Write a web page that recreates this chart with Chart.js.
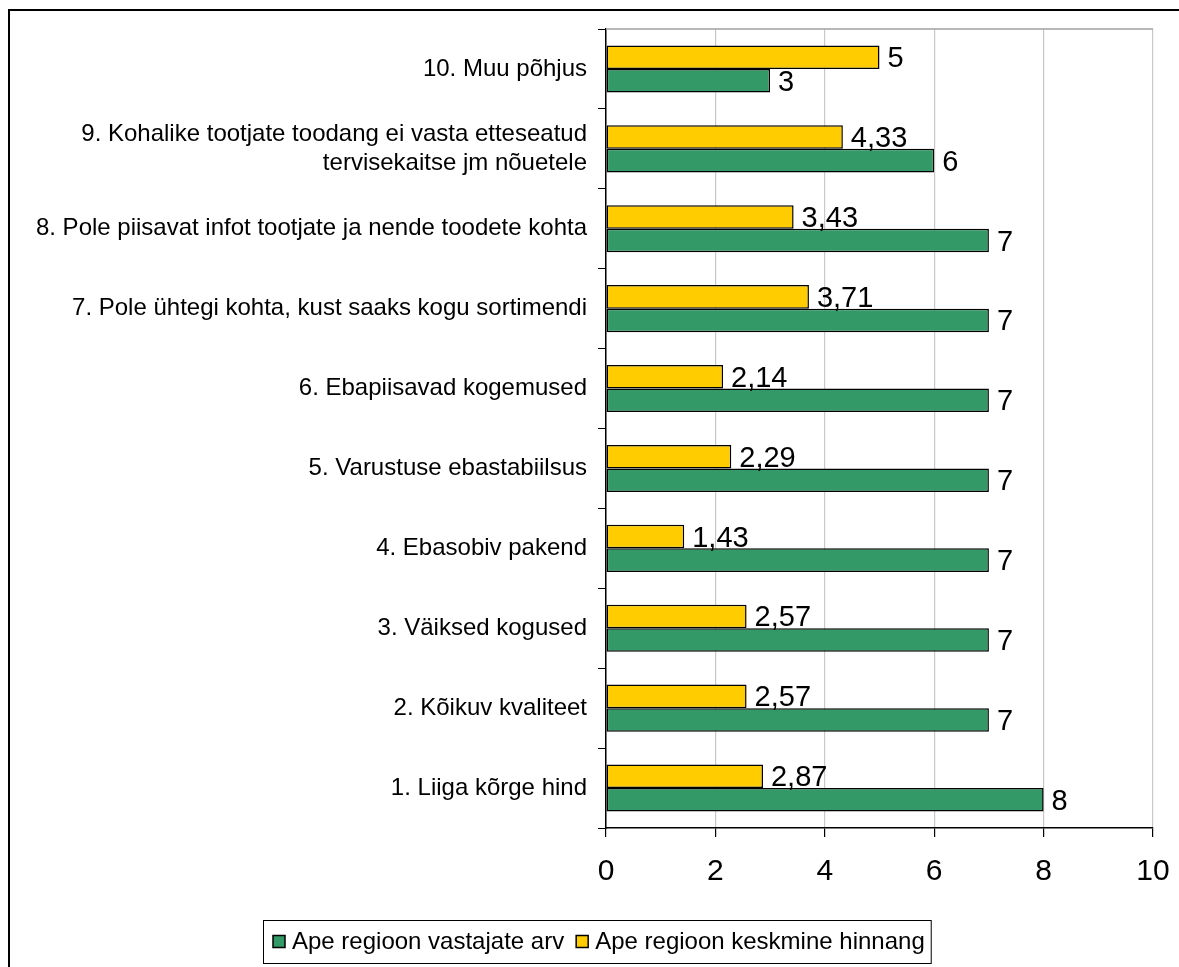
<!DOCTYPE html>
<html>
<head>
<meta charset="utf-8">
<script src="https://cdn.jsdelivr.net/npm/chart.js@4.4.1/dist/chart.umd.min.js"></script>
<style>
  html, body { margin: 0; padding: 0; background: #fff; overflow: hidden; }
  #frame { position: absolute; left: 8px; top: 9px; width: 1300px; height: 1100px; border: 2px solid #000; }
  #chart { position: absolute; left: 0; top: 0; }
</style>
</head>
<body>
<div id="frame"></div>
<canvas id="chart" width="1179" height="967"></canvas>
<script>
// categories, bottom to top as in the source chart
const categories = [
    '1. Liiga kõrge hind',
    '2. Kõikuv kvaliteet',
    '3. Väiksed kogused',
    '4. Ebasobiv pakend',
    '5. Varustuse ebastabiilsus',
    '6. Ebapiisavad kogemused',
    '7. Pole ühtegi kohta, kust saaks kogu sortimendi',
    '8. Pole piisavat infot tootjate ja nende toodete kohta',
    ['9. Kohalike tootjate toodang ei vasta etteseatud', 'tervisekaitse jm nõuetele'],
    '10. Muu põhjus'
];
const respondents = [8, 7, 7, 7, 7, 7, 7, 7, 6, 3];
const avgScore = [2.87, 2.57, 2.57, 1.43, 2.29, 2.14, 3.71, 3.43, 4.33, 5];
const xTicks = [0, 2, 4, 6, 8, 10];

const FONT = '"Liberation Sans", Arial, sans-serif';

// numbers next to bar ends, decimal comma
const valueLabels = {
    id: 'valueLabels',
    afterDatasetsDraw(chart) {
        const ctx = chart.ctx;
        ctx.save();
        ctx.font = '29px ' + FONT;
        ctx.fillStyle = '#000';
        ctx.textBaseline = 'middle';
        chart.data.datasets.forEach((ds, i) => {
            chart.getDatasetMeta(i).data.forEach((bar, j) => {
                ctx.fillText(String(ds.data[j]).replace('.', ','), bar.x + 8, bar.y + 2);
            });
        });
        ctx.restore();
    }
};

// grey top edge of the plot area
const plotTop = {
    id: 'plotTop',
    beforeDatasetsDraw(chart) {
        const { ctx, chartArea: a } = chart;
        ctx.save();
        ctx.strokeStyle = '#a0a0a0';
        ctx.lineWidth = 1.5;
        ctx.beginPath();
        ctx.moveTo(a.left, a.top);
        ctx.lineTo(a.right, a.top);
        ctx.stroke();
        ctx.restore();
    }
};

// boxed legend, green series first
const boxLegend = {
    id: 'boxLegend',
    afterDraw(chart) {
        const ctx = chart.ctx;
        const items = [1, 0].map(i => chart.data.datasets[i]);
        ctx.save();
        ctx.font = '24px ' + FONT;
        ctx.textBaseline = 'middle';
        const box = { x: 263, y: 920, h: 43 };
        let w = 10;
        items.forEach(d => { w += 12 + 7 + ctx.measureText(d.label).width + 12; });
        w -= 6;
        ctx.fillStyle = '#fff';
        ctx.fillRect(box.x, box.y, w, box.h);
        ctx.strokeStyle = '#000';
        ctx.lineWidth = 1;
        ctx.strokeRect(box.x + 0.5, box.y + 0.5, w, box.h);
        let x = box.x + 10;
        const cy = box.y + box.h / 2;
        items.forEach(d => {
            ctx.fillStyle = d.backgroundColor;
            ctx.fillRect(x, cy - 6, 12, 12);
            ctx.strokeStyle = '#000';
            ctx.lineWidth = 1.5;
            ctx.strokeRect(x, cy - 6, 12, 12);
            x += 12 + 7;
            ctx.fillStyle = '#000';
            ctx.fillText(d.label, x, cy + 1);
            x += ctx.measureText(d.label).width + 12;
        });
        ctx.restore();
    }
};

new Chart(document.getElementById('chart'), {
    type: 'bar',
    data: {
        labels: categories,
        datasets: [
            {
                label: 'Ape regioon keskmine hinnang',
                data: avgScore,
                backgroundColor: '#FFCC00',
                borderColor: '#000',
                borderWidth: 1.5,
                borderSkipped: false
            },
            {
                label: 'Ape regioon vastajate arv',
                data: respondents,
                backgroundColor: '#339966',
                borderColor: '#000',
                borderWidth: 1.5,
                borderSkipped: false
            }
        ]
    },
    options: {
        indexAxis: 'y',
        responsive: false,
        animation: false,
        datasets: { bar: { categoryPercentage: 0.59, barPercentage: 1 } },
        layout: { padding: { top: 29, right: 26, left: 0, bottom: 0 } },
        plugins: {
            legend: { display: false },
            tooltip: { enabled: false }
        },
        scales: {
            x: {
                min: 0,
                max: 10,
                afterBuildTicks: s => { s.ticks = xTicks.map(v => ({ value: v })); },
                afterFit: s => { s.height = 139; s.paddingLeft = 0; s.paddingRight = 0; },
                ticks: { color: '#000', font: { size: 30, family: FONT }, padding: 17 },
                grid: { color: '#c8c8c8', tickColor: '#000', tickLength: 9, lineWidth: 1.2 },
                border: { color: '#000', width: 1.5 }
            },
            y: {
                reverse: true,
                afterFit: s => { s.width = 606; s.paddingTop = 0; s.paddingBottom = 0; },
                ticks: { color: '#000', font: { size: 24, family: FONT }, padding: 11 },
                grid: { offset: true, drawOnChartArea: false, tickColor: '#000', tickLength: 8 },
                border: { color: '#000', width: 1.5 }
            }
        }
    },
    plugins: [valueLabels, plotTop, boxLegend]
});
</script>
</body>
</html>
